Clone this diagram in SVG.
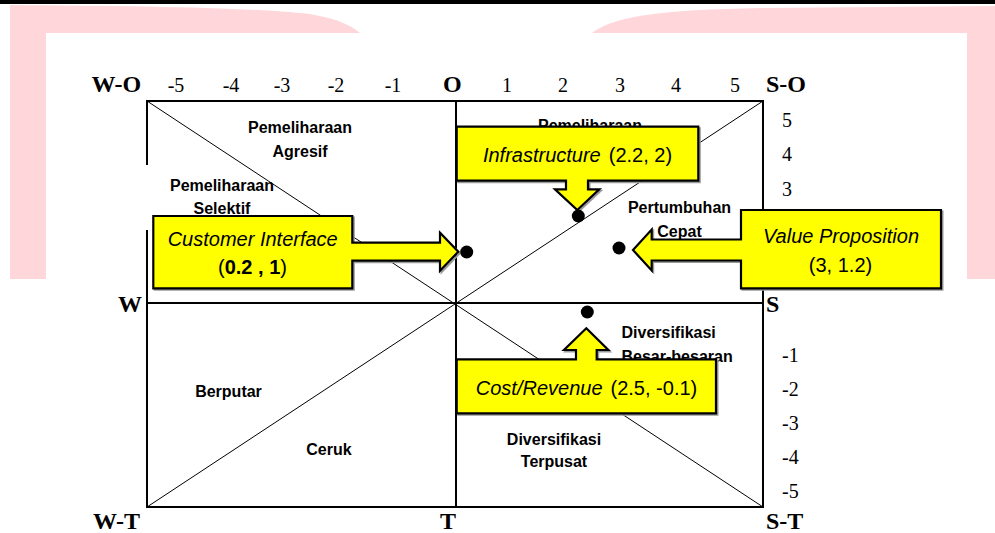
<svg xmlns="http://www.w3.org/2000/svg" width="995" height="533" viewBox="0 0 995 533">
<style>
.axb{font-family:"Liberation Serif",serif;font-weight:bold;font-size:24px;fill:#000}
.num{font-family:"Liberation Serif",serif;font-size:20px;fill:#000}
.q{font-family:"Liberation Sans",sans-serif;font-weight:bold;font-size:16px;fill:#000;text-anchor:middle}
.ql{font-family:"Liberation Sans",sans-serif;font-weight:bold;font-size:16px;fill:#000}
.frame{stroke:#000;stroke-width:2;fill:none}
.diag{stroke:#000;stroke-width:1;fill:none}
.call{fill:#ffff00;stroke:#000;stroke-width:2.2;stroke-linejoin:miter}
.shadow{fill:none;stroke:#9a9a9a;stroke-width:2}
.ct{font-family:"Liberation Sans",sans-serif;font-size:20px;fill:#000;text-anchor:middle}
.dot{fill:#000}
</style>
<g id="background">
<rect x="0" y="0" width="995" height="533" fill="#ffffff"/>
<rect x="0" y="0" width="995" height="4" fill="#000"/>
<path d="M10,5 C150,6 270,8 315,15 C338,19 352,26 360,33 L46,33 L46,279 L10,279 Z" fill="#ffd7db"/>
<path d="M592,33 C615,16 660,10 760,8 L995,6 L995,279 L967,279 L967,33 Z" fill="#ffd7db"/>
</g>
<g id="frame">
<line class="frame" x1="146" y1="101" x2="764" y2="101"/>
<line class="frame" x1="146" y1="507" x2="764" y2="507"/>
<line class="frame" x1="147" y1="100" x2="147" y2="165"/>
<line class="frame" x1="147" y1="230" x2="147" y2="508"/>
<line class="frame" x1="763" y1="100" x2="763" y2="508"/>
<line class="frame" x1="456" y1="101" x2="456" y2="507"/>
<line class="frame" x1="147" y1="303" x2="763" y2="303"/>
<line class="diag" x1="147" y1="101" x2="763" y2="507"/>
<line class="diag" x1="147" y1="507" x2="763" y2="101"/>
</g>
<g id="axis-labels">
<text class="axb" x="91.5" y="92">W-O</text>
<text class="axb" x="443" y="92">O</text>
<text class="axb" x="766" y="92">S-O</text>
<text class="axb" x="118" y="312">W</text>
<text class="axb" x="766" y="312">S</text>
<text class="axb" x="93" y="529">W-T</text>
<text class="axb" x="440" y="529">T</text>
<text class="axb" x="766" y="529">S-T</text>
<g text-anchor="middle">
<text class="num" x="176" y="92">-5</text>
<text class="num" x="231" y="92">-4</text>
<text class="num" x="282" y="92">-3</text>
<text class="num" x="336" y="92">-2</text>
<text class="num" x="393" y="92">-1</text>
<text class="num" x="507" y="92">1</text>
<text class="num" x="563" y="92">2</text>
<text class="num" x="620" y="92">3</text>
<text class="num" x="676" y="92">4</text>
<text class="num" x="735" y="92">5</text>
</g>
<text class="num" x="782" y="127">5</text>
<text class="num" x="782" y="161">4</text>
<text class="num" x="782" y="196">3</text>
<text class="num" x="782" y="362">-1</text>
<text class="num" x="782" y="396">-2</text>
<text class="num" x="782" y="430">-3</text>
<text class="num" x="782" y="464">-4</text>
<text class="num" x="782" y="498">-5</text>
</g>
<g id="quadrant-labels">
<text class="q" x="300" y="133">Pemeliharaan</text>
<text class="q" x="300" y="157">Agresif</text>
<text class="q" x="222" y="191">Pemeliharaan</text>
<text class="q" x="222" y="214">Selektif</text>
<text class="q" x="590" y="131">Pemeliharaan</text>
<text class="q" x="679.5" y="213">Pertumbuhan</text>
<text class="q" x="679.5" y="237">Cepat</text>
<text class="ql" x="621.5" y="338">Diversifikasi</text>
<text class="ql" x="621.5" y="362">Besar-besaran</text>
<text class="q" x="228.5" y="397">Berputar</text>
<text class="q" x="329" y="455">Ceruk</text>
<text class="q" x="554" y="445">Diversifikasi</text>
<text class="q" x="554" y="467">Terpusat</text>
</g>
<g id="callout-infrastructure">
<path class="shadow" transform="translate(1.5,1.5)" d="M456.7,126.7 H698.3 V180.7 H588 V189.3 H599.3 L577.3,210 L555,189.3 H566 V180.7 H456.7 Z"/>
<path class="call" d="M456.7,126.7 H698.3 V180.7 H588 V189.3 H599.3 L577.3,210 L555,189.3 H566 V180.7 H456.7 Z"/>
<text class="ct" x="577.5" y="162"><tspan font-style="italic">Infrastructure</tspan><tspan dx="8">(2.2, 2)</tspan></text>
</g>
<g id="callout-customer-interface">
<path class="shadow" transform="translate(1.5,1.5)" d="M153.3,216 H352.3 V242.7 H440 V232.7 L458.3,251.7 L440,270.7 V260.7 H352.3 V288.3 H153.3 Z"/>
<path class="call" d="M153.3,216 H352.3 V242.7 H440 V232.7 L458.3,251.7 L440,270.7 V260.7 H352.3 V288.3 H153.3 Z"/>
<text class="ct" x="252.7" y="246" font-style="italic">Customer Interface</text>
<text class="ct" x="252.5" y="273.5">(<tspan font-weight="bold">0.2  ,  1</tspan>)</text>
</g>
<g id="callout-value-proposition">
<path class="shadow" transform="translate(1.5,1.5)" d="M741,210 H941 V288.3 H741 V260.5 H651.7 V270.5 L633,250 L651.7,229.5 V239.5 H741 Z"/>
<path class="call" d="M741,210 H941 V288.3 H741 V260.5 H651.7 V270.5 L633,250 L651.7,229.5 V239.5 H741 Z"/>
<text class="ct" x="841" y="243" font-style="italic">Value Proposition</text>
<text class="ct" x="840.5" y="272">(3, 1.2)</text>
</g>
<g id="callout-cost-revenue">
<path class="shadow" transform="translate(1.5,1.5)" d="M456.7,359.3 H576 V350 H564 L586.3,328.3 L608.3,350 H596.7 V359.3 H716 V413.3 H456.7 Z"/>
<path class="call" d="M456.7,359.3 H576 V350 H564 L586.3,328.3 L608.3,350 H596.7 V359.3 H716 V413.3 H456.7 Z"/>
<text class="ct" x="586.5" y="395"><tspan font-style="italic">Cost/Revenue</tspan><tspan dx="8">(2.5, -0.1)</tspan></text>
</g>
<g id="points">
<circle class="dot" cx="578.3" cy="216" r="6.5"/>
<circle class="dot" cx="466.7" cy="252" r="6.5"/>
<circle class="dot" cx="619" cy="248" r="6.5"/>
<circle class="dot" cx="587.3" cy="312" r="6.5"/>
</g>
</svg>
